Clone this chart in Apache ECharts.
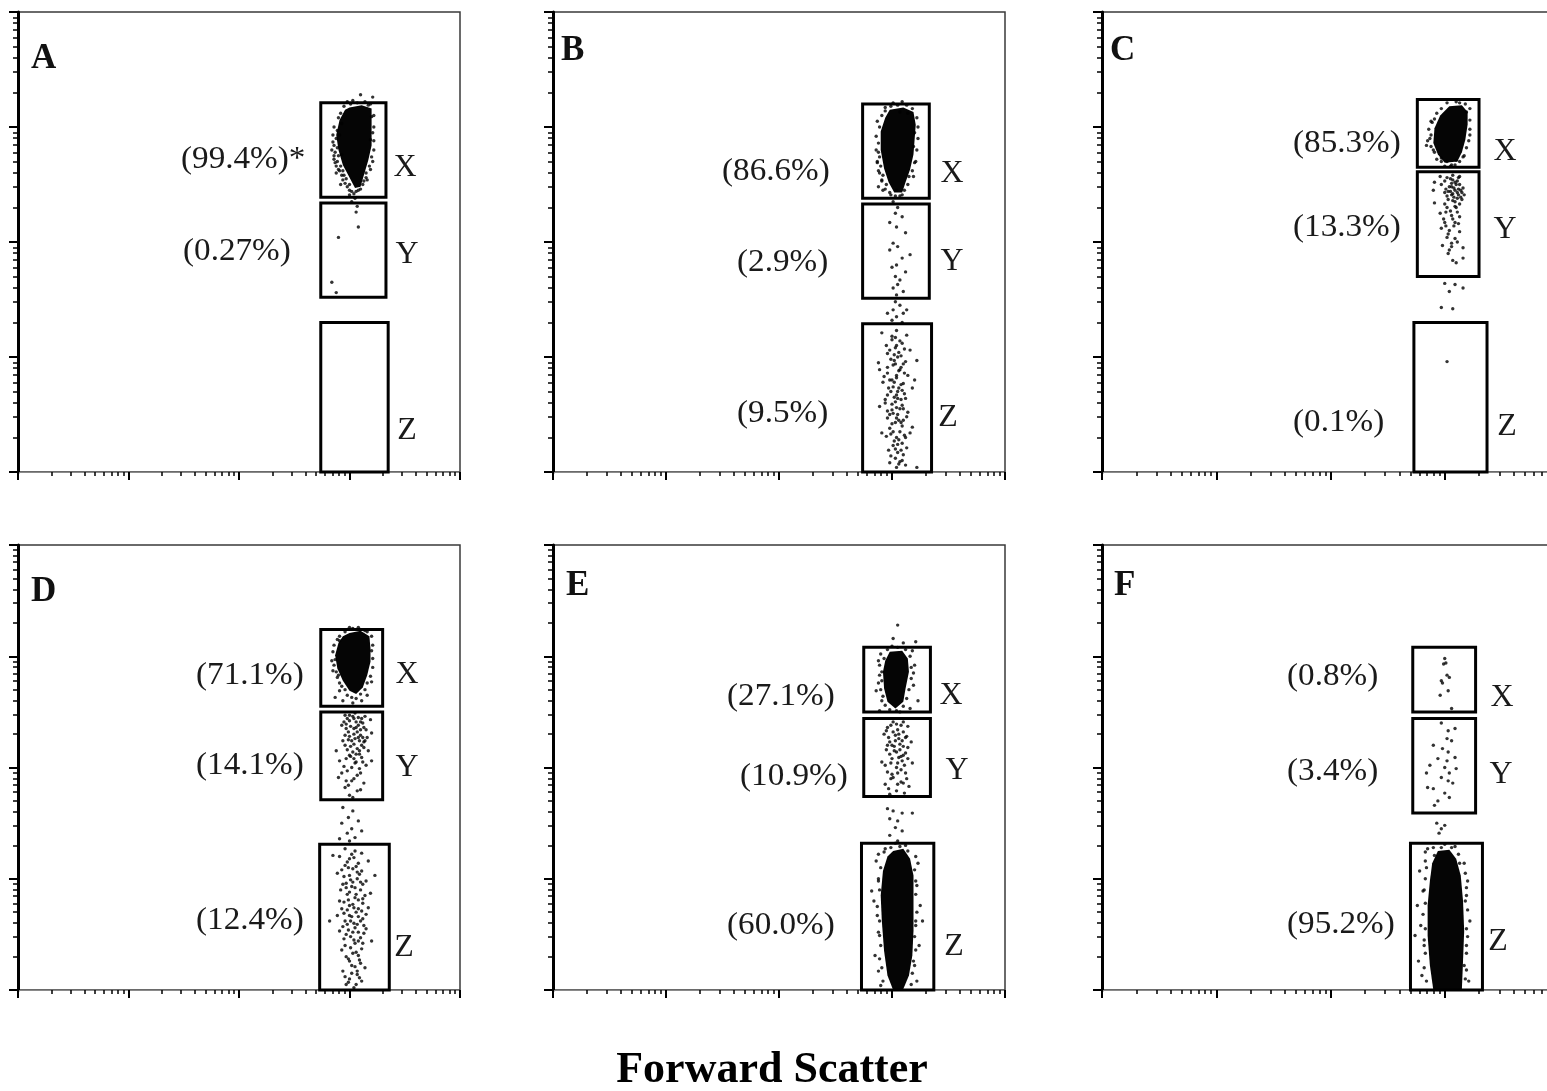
<!DOCTYPE html>
<html>
<head>
<meta charset="utf-8">
<script src="https://cdn.jsdelivr.net/npm/echarts@6/dist/echarts.min.js"></script>
<style>
  html, body { margin: 0; padding: 0; background: #fff; }
  #main { width: 1547px; height: 1091px; }
</style>
</head>
<body>
<div id="main"></div>
<script>
// Both axes of every dot plot are log scales over four decades (10^0 .. 10^4).
// All coordinates below are given in decades: 3.0 means 10^3.
const majorTicks = [0, 1, 2, 3, 4];
const panelNames = ['A', 'B', 'C', 'D', 'E', 'F'];
const gateNames = ['X', 'Y', 'Z'];

// Gate rectangles: [xMin, yMin, xMax, yMax] for gates X, Y, Z
const gatesA = [[2.74, 2.39, 3.33, 3.21], [2.74, 1.52, 3.33, 2.34], [2.74, 0, 3.35, 1.30]];
const gatesB = [[2.74, 2.38, 3.33, 3.20], [2.74, 1.51, 3.33, 2.33], [2.74, 0, 3.35, 1.29]];
const gatesC = [[2.76, 2.65, 3.30, 3.24], [2.76, 1.70, 3.30, 2.61], [2.73, 0, 3.37, 1.30]];
const gatesD = [[2.74, 2.55, 3.30, 3.24], [2.74, 1.71, 3.30, 2.50], [2.73, 0, 3.36, 1.31]];
const gatesE = [[2.75, 2.50, 3.34, 3.08], [2.75, 1.74, 3.34, 2.44], [2.73, 0, 3.37, 1.32]];
const gatesF = [[2.72, 2.50, 3.27, 3.08], [2.72, 1.59, 3.27, 2.44], [2.70, 0, 3.33, 1.32]];

// Percentage of events in gates X, Y, Z
const pctA = ['99.4', '0.27', null];
const pctB = ['86.6', '2.9', '9.5'];
const pctC = ['85.3', '13.3', '0.1'];
const pctD = ['71.1', '14.1', '12.4'];
const pctE = ['27.1', '10.9', '60.0'];
const pctF = ['0.8', '3.4', '95.2'];
const noteA = ['*', '', ''];

// Outlines of the saturated (solid black) event clouds
const coresA = [[[3.00, 3.17], [3.11, 3.19], [3.20, 3.16], [3.20, 3.02], [3.20, 2.84], [3.17, 2.71], [3.13, 2.58], [3.10, 2.48], [3.05, 2.47], [3.00, 2.56], [2.94, 2.67], [2.90, 2.80], [2.88, 2.93], [2.91, 3.06], [2.96, 3.15]]];
const coresB = [[[2.98, 3.15], [3.10, 3.17], [3.19, 3.13], [3.21, 3.02], [3.20, 2.89], [3.19, 2.76], [3.16, 2.63], [3.12, 2.52], [3.09, 2.43], [3.02, 2.43], [2.97, 2.52], [2.93, 2.64], [2.90, 2.80], [2.90, 2.96], [2.94, 3.08]]];
const coresC = [[[3.04, 3.18], [3.15, 3.19], [3.20, 3.13], [3.20, 3.02], [3.18, 2.89], [3.15, 2.78], [3.11, 2.70], [3.00, 2.69], [2.94, 2.76], [2.90, 2.86], [2.91, 2.99], [2.96, 3.10]]];
const coresD = [[[3.00, 3.21], [3.10, 3.23], [3.18, 3.18], [3.19, 3.07], [3.19, 2.95], [3.16, 2.83], [3.12, 2.72], [3.06, 2.66], [3.00, 2.69], [2.94, 2.78], [2.89, 2.89], [2.87, 3.01], [2.90, 3.12], [2.94, 3.18]]];
const coresE = [
  [[2.98, 3.04], [3.09, 3.05], [3.14, 2.98], [3.15, 2.86], [3.12, 2.71], [3.10, 2.59], [3.03, 2.53], [2.96, 2.59], [2.93, 2.71], [2.92, 2.86], [2.94, 2.96]],
  [[3.01, 1.25], [3.10, 1.27], [3.16, 1.18], [3.19, 1.03], [3.19, 0.80], [3.19, 0.53], [3.18, 0.31], [3.15, 0.13], [3.10, 0.01], [3.01, 0.00], [2.96, 0.13], [2.93, 0.35], [2.91, 0.62], [2.90, 0.85], [2.92, 1.07], [2.96, 1.20]]
];
const coresF = [[[2.94, 1.25], [3.04, 1.26], [3.10, 1.18], [3.14, 1.03], [3.16, 0.80], [3.17, 0.53], [3.16, 0.26], [3.15, 0.01], [2.90, 0.00], [2.87, 0.22], [2.85, 0.49], [2.85, 0.76], [2.87, 0.98], [2.89, 1.14]]];

// Individual events outside the saturated clouds
const dotsA = [[2.85, 2.87], [2.84, 2.80], [2.87, 2.69], [2.90, 2.63], [2.93, 2.76], [2.91, 2.93], [2.94, 2.54], [2.98, 2.48], [3.00, 2.45], [3.08, 2.45], [3.12, 2.50], [3.16, 2.54], [3.19, 2.63], [3.20, 2.74], [3.19, 2.89], [3.20, 3.09], [3.17, 3.19], [3.03, 3.23], [3.10, 3.28], [3.21, 3.26], [2.98, 3.22], [3.00, 2.41], [3.05, 2.38], [3.02, 2.35], [3.07, 2.31], [3.06, 2.26], [3.08, 2.13], [2.90, 2.04], [2.84, 1.65], [2.88, 1.56], [2.86, 2.75], [2.88, 2.60], [2.95, 2.58], [3.15, 2.60], [3.21, 2.95], [2.92, 2.50], [3.04, 2.42]];
const edgeA = [[2.86, 3.00], [2.89, 2.97], [2.85, 2.93], [2.88, 2.90], [2.86, 2.84], [2.89, 2.82], [2.87, 2.78], [2.90, 2.75], [2.86, 2.72], [2.89, 2.70], [2.92, 2.66], [2.88, 2.66], [2.91, 2.62], [2.94, 2.62], [2.93, 2.58], [2.97, 2.55], [2.96, 2.51], [3.00, 2.50], [3.02, 2.44], [3.06, 2.44], [3.10, 2.46], [3.13, 2.53], [3.15, 2.56], [3.18, 2.66], [3.21, 2.70], [3.22, 2.80], [3.22, 2.88], [3.22, 3.00], [3.22, 3.10], [3.19, 3.20], [3.14, 3.22], [3.07, 3.21], [3.01, 3.20], [2.95, 3.18], [2.92, 3.12], [2.90, 3.08], [2.93, 3.03]];

const dotsB = [[2.88, 2.78], [2.87, 2.69], [2.89, 2.60], [2.91, 2.54], [2.88, 2.48], [2.92, 2.45], [3.19, 2.57], [3.20, 2.69], [3.19, 2.83], [3.20, 2.95], [3.14, 3.12], [3.07, 3.13], [2.94, 3.17], [3.04, 2.45], [2.98, 2.43], [3.09, 2.41],
  [3.01, 2.35], [3.05, 2.30], [3.03, 2.25], [3.09, 2.22], [2.98, 2.17], [3.04, 2.13], [3.12, 2.08], [3.01, 1.99], [3.05, 1.96], [2.98, 1.93], [3.16, 1.89], [3.09, 1.86], [3.04, 1.80], [3.00, 1.78], [3.12, 1.74], [3.03, 1.70], [3.07, 1.67], [3.05, 1.63], [3.01, 1.60], [3.10, 1.57], [3.04, 1.54],
  [3.03, 1.48], [3.07, 1.45], [3.01, 1.41], [3.10, 1.38], [3.04, 1.35], [3.00, 1.32], [3.09, 1.30], [3.13, 1.41], [2.96, 1.38],
  [2.91, 1.21], [3.04, 1.23], [3.13, 1.19], [3.00, 1.15], [3.09, 1.12], [3.03, 1.08], [3.16, 1.06], [2.96, 1.03], [3.05, 1.00], [3.12, 0.96], [2.88, 0.95], [3.01, 0.93], [3.07, 0.89], [2.96, 0.86], [3.14, 0.84], [3.04, 0.82], [2.92, 0.78], [3.10, 0.77], [3.01, 0.74], [3.18, 0.73], [3.05, 0.70], [2.96, 0.67], [3.12, 0.64], [3.03, 0.61], [3.09, 0.58], [2.89, 0.57], [3.00, 0.54], [3.14, 0.52], [3.05, 0.50], [2.96, 0.47], [3.10, 0.45], [3.03, 0.43], [3.18, 0.39], [2.98, 0.38], [3.07, 0.35], [2.91, 0.34], [3.12, 0.30], [3.04, 0.30], [3.09, 0.25], [3.01, 0.23], [3.13, 0.21], [3.05, 0.17], [3.10, 0.15], [3.03, 0.12], [3.07, 0.09], [3.12, 0.06], [3.04, 0.04], [3.22, 0.04], [2.98, 0.08], [3.16, 0.34], [2.94, 0.63], [3.20, 0.80], [2.89, 0.89], [3.22, 0.97],
  [3.04, 1.10], [3.06, 1.04], [3.02, 0.97], [3.08, 0.91], [3.04, 0.84], [2.98, 0.80], [3.06, 0.73], [3.02, 0.65], [3.08, 0.63], [3.04, 0.56], [2.98, 0.50], [3.06, 0.45], [3.01, 0.35], [3.06, 0.28], [3.03, 0.20],
  [3.00, 1.18], [3.07, 1.14], [2.95, 1.10], [3.11, 1.07], [3.02, 1.02], [2.99, 0.98], [3.10, 0.94], [3.06, 0.88], [2.93, 0.83], [3.00, 0.80], [3.08, 0.76], [2.99, 0.70], [3.11, 0.68], [3.05, 0.64], [2.94, 0.60], [3.07, 0.55], [3.01, 0.51], [3.13, 0.48], [3.00, 0.42], [3.09, 0.40], [2.95, 0.31], [3.02, 0.27], [3.08, 0.19], [2.99, 0.14], [3.06, 0.07],
  [3.03, 1.17], [2.98, 1.06], [3.08, 1.01], [3.03, 0.94], [2.96, 0.91], [3.11, 0.86], [3.02, 0.78], [3.09, 0.71], [2.97, 0.73], [3.04, 0.67], [3.00, 0.59], [3.10, 0.55], [2.96, 0.53], [3.04, 0.47], [3.08, 0.43], [2.99, 0.33], [3.11, 0.32], [3.05, 0.24], [2.97, 0.19], [3.09, 0.10]];
const edgeB = [[2.87, 3.05], [2.89, 3.00], [2.86, 2.92], [2.88, 2.86], [2.86, 2.80], [2.89, 2.74], [2.87, 2.70], [2.90, 2.66], [2.88, 2.62], [2.92, 2.58], [2.91, 2.53], [2.95, 2.50], [2.94, 2.46], [2.99, 2.41], [3.03, 2.40], [3.07, 2.40], [3.11, 2.45], [3.14, 2.50], [3.15, 2.57], [3.18, 2.62], [3.21, 2.70], [3.22, 2.80], [3.23, 2.90], [3.23, 3.00], [3.22, 3.08], [3.18, 3.16], [3.13, 3.19], [3.05, 3.19], [2.99, 3.18], [2.94, 3.14], [2.91, 3.10], [3.01, 3.21], [3.09, 3.22]];

const dotsC = [[2.89, 3.04], [2.84, 2.84], [2.90, 2.80], [2.87, 2.90], [3.19, 3.13], [3.22, 2.93], [3.13, 3.21], [2.97, 2.73], [3.02, 2.70], [3.10, 2.71], [3.16, 2.74], [3.06, 2.67],
  [2.96, 2.57], [3.02, 2.56], [3.07, 2.54], [3.13, 2.57], [2.97, 2.50], [3.04, 2.48], [3.10, 2.50], [3.16, 2.47], [3.00, 2.43], [3.06, 2.41], [3.11, 2.43], [3.17, 2.41], [3.03, 2.37], [3.09, 2.35], [3.15, 2.37], [2.91, 2.34], [3.02, 2.30], [3.10, 2.30], [2.96, 2.25], [3.06, 2.23], [3.13, 2.22], [3.00, 2.17], [3.09, 2.17], [2.97, 2.12], [3.04, 2.10], [3.13, 2.09], [3.02, 2.04], [3.09, 2.03], [2.98, 1.97], [3.06, 1.96], [3.16, 1.95], [3.03, 1.90], [3.07, 1.84], [3.10, 1.82], [3.16, 1.86], [2.90, 2.45], [2.91, 2.52],
  [3.06, 2.51], [3.09, 2.45], [3.13, 2.50], [3.08, 2.39], [3.03, 2.44], [3.11, 2.38], [3.15, 2.43],
  [3.05, 2.55], [3.11, 2.53], [3.08, 2.47], [3.01, 2.46], [3.14, 2.45], [3.05, 2.44], [3.12, 2.41], [3.07, 2.36], [3.00, 2.33], [3.13, 2.33], [3.05, 2.27], [3.11, 2.26], [2.99, 2.20], [3.08, 2.14], [3.03, 2.07], [3.11, 2.00],
  [3.07, 2.58], [3.12, 2.56], [3.00, 2.53], [3.09, 2.52], [3.06, 2.48], [3.12, 2.46], [3.07, 2.42], [3.02, 2.40], [3.14, 2.39], [3.09, 2.31], [3.01, 2.26], [3.07, 2.20], [3.12, 2.16], [3.01, 2.14], [3.06, 1.99], [3.04, 1.93],
  [3.00, 1.64], [3.09, 1.63], [3.16, 1.60], [3.04, 1.57], [2.97, 1.43], [3.07, 1.42],
  [3.02, 0.96]];
const edgeC = [[2.88, 3.05], [2.86, 2.98], [2.88, 2.93], [2.85, 2.88], [2.88, 2.83], [2.91, 2.78], [2.93, 2.72], [2.97, 2.70], [3.00, 2.66], [3.05, 2.66], [3.09, 2.67], [3.13, 2.70], [3.17, 2.75], [3.19, 2.82], [3.21, 2.88], [3.22, 2.98], [3.22, 3.06], [3.22, 3.16], [3.18, 3.20], [3.10, 3.22], [3.02, 3.21], [2.97, 3.16], [2.93, 3.12], [2.91, 3.07]];

const dotsD = [[2.84, 2.96], [2.85, 2.87], [2.89, 2.81], [2.91, 2.69], [2.87, 2.63], [2.94, 2.60], [3.03, 2.58], [3.11, 2.60], [3.16, 2.65], [3.20, 2.77], [3.20, 3.05], [3.14, 3.23], [3.00, 3.26], [2.91, 3.14],
  [2.96, 2.47], [3.05, 2.49], [3.14, 2.46], [3.00, 2.42], [3.10, 2.41], [3.19, 2.43], [2.93, 2.38], [3.06, 2.36], [3.15, 2.34], [2.99, 2.32], [3.10, 2.29], [3.20, 2.31], [3.02, 2.24], [3.13, 2.23], [2.96, 2.20], [3.07, 2.17], [3.17, 2.15], [3.00, 2.11], [3.11, 2.09], [2.91, 2.06], [3.05, 2.04], [3.15, 2.02], [2.98, 1.97], [3.10, 1.95], [2.90, 1.91], [3.02, 1.88], [3.13, 1.86], [2.96, 1.82], [3.07, 1.79], [3.00, 1.75], [2.93, 1.95], [3.20, 2.06], [2.88, 2.15], [3.04, 2.44], [3.11, 2.20], [3.03, 2.14],
  [3.03, 2.46], [3.08, 2.38], [2.97, 2.35], [3.12, 2.27], [3.05, 2.26], [2.99, 2.25], [3.09, 2.12], [3.04, 2.08],
  [2.98, 2.44], [3.08, 2.45], [3.12, 2.40], [2.95, 2.41], [3.01, 2.37], [3.13, 2.36], [3.07, 2.32], [2.96, 2.29], [3.04, 2.30], [3.16, 2.27], [3.09, 2.24], [2.94, 2.24], [3.01, 2.19], [3.13, 2.18], [3.06, 2.12], [2.97, 2.08], [3.12, 2.05], [3.02, 2.00], [3.07, 1.93], [2.99, 1.84], [3.10, 1.80], [3.03, 1.73],
  [3.00, 2.47], [3.11, 2.44], [3.06, 2.41], [2.97, 2.39], [3.04, 2.35], [3.10, 2.34], [3.00, 2.28], [3.08, 2.27], [3.14, 2.24], [3.04, 2.21], [2.98, 2.16], [3.09, 2.15], [3.01, 2.10], [3.06, 2.05], [2.95, 2.01], [3.09, 1.99], [3.04, 1.90], [2.97, 1.88],
  [2.94, 1.64], [3.03, 1.61], [2.99, 1.55], [3.08, 1.52], [2.93, 1.50], [3.02, 1.45], [3.11, 1.43], [2.98, 1.41], [3.05, 1.37], [3.00, 1.34], [2.91, 1.36],
  [2.96, 1.27], [3.05, 1.25], [3.11, 1.23], [2.91, 1.20], [3.00, 1.18], [3.08, 1.14], [3.17, 1.16], [2.96, 1.12], [3.03, 1.09], [3.11, 1.07], [2.89, 1.05], [3.00, 1.03], [3.07, 1.00], [3.15, 0.98], [2.94, 0.95], [3.02, 0.93], [3.10, 0.90], [3.19, 0.87], [2.98, 0.86], [3.05, 0.83], [2.91, 0.80], [3.12, 0.78], [3.00, 0.76], [3.08, 0.73], [2.95, 0.69], [3.15, 0.68], [3.02, 0.66], [3.10, 0.62], [2.98, 0.59], [3.05, 0.56], [2.91, 0.53], [3.13, 0.51], [3.01, 0.48], [3.08, 0.44], [2.96, 0.40], [3.11, 0.37], [3.03, 0.33], [2.99, 0.28], [3.10, 0.24], [3.05, 0.21], [2.94, 0.17], [3.07, 0.14], [3.00, 0.10], [3.11, 0.08], [2.97, 0.05], [3.04, 0.02], [2.85, 1.21], [3.23, 1.03], [2.82, 0.62], [3.20, 0.44],
  [3.02, 1.22], [2.98, 1.15], [3.06, 1.11], [2.93, 1.08], [3.09, 1.04], [3.01, 0.99], [2.97, 0.96], [3.12, 0.95], [3.05, 0.92], [2.92, 0.90], [3.00, 0.88], [3.14, 0.85], [3.08, 0.81], [2.95, 0.79], [3.03, 0.77], [3.17, 0.74], [2.98, 0.72], [3.06, 0.70], [2.89, 0.67], [3.12, 0.64], [3.01, 0.62], [3.07, 0.59], [2.94, 0.57], [3.15, 0.55], [3.03, 0.52], [2.97, 0.50], [3.10, 0.47], [3.05, 0.42], [2.93, 0.36], [3.08, 0.31], [3.00, 0.26], [3.14, 0.20], [3.02, 0.15], [3.09, 0.11], [2.96, 0.12], [3.06, 0.05],
  [3.04, 1.19], [2.99, 1.10], [3.07, 1.06], [2.95, 1.02], [3.03, 0.97], [3.10, 0.97], [2.97, 0.92], [3.06, 0.86], [3.12, 0.82], [2.99, 0.81], [3.04, 0.74], [2.93, 0.73], [3.11, 0.71], [3.00, 0.67], [3.08, 0.66], [2.96, 0.62], [3.04, 0.60], [3.13, 0.58], [2.99, 0.54], [3.08, 0.52], [2.95, 0.46], [3.04, 0.45], [3.12, 0.42], [3.01, 0.38], [3.06, 0.34], [2.97, 0.30], [3.09, 0.27], [3.02, 0.22], [3.07, 0.17], [2.99, 0.07]];
const edgeD = [[2.86, 3.10], [2.85, 3.04], [2.87, 2.97], [2.86, 2.92], [2.88, 2.86], [2.90, 2.83], [2.91, 2.76], [2.93, 2.73], [2.96, 2.70], [2.98, 2.65], [3.02, 2.63], [3.06, 2.62], [3.10, 2.66], [3.14, 2.70], [3.16, 2.76], [3.19, 2.82], [3.21, 2.90], [3.21, 2.98], [3.21, 3.10], [3.20, 3.18], [3.16, 3.22], [3.08, 3.26], [3.03, 3.25], [2.96, 3.22], [2.91, 3.18], [2.89, 3.15]];

const dotsE = [[3.05, 3.28], [3.01, 3.16], [3.21, 3.13], [3.10, 3.12],
  [2.88, 2.96], [2.89, 2.83], [2.86, 2.69], [2.91, 2.60], [3.20, 2.92], [3.19, 2.74], [3.23, 2.60], [2.89, 2.51], [3.07, 2.50], [3.16, 2.53], [3.00, 3.09], [3.18, 3.05],
  [3.01, 2.41], [3.10, 2.41], [2.96, 2.36], [3.05, 2.34], [3.14, 2.37], [2.93, 2.30], [3.03, 2.29], [3.12, 2.27], [2.98, 2.23], [3.07, 2.21], [3.17, 2.23], [2.95, 2.16], [3.04, 2.14], [3.12, 2.13], [3.00, 2.08], [3.09, 2.06], [2.91, 2.05], [3.18, 2.04], [3.04, 2.00], [2.96, 1.96], [3.12, 1.95], [3.01, 1.91], [3.08, 1.87], [2.94, 1.85], [3.15, 1.83], [3.04, 1.79], [2.98, 1.76], [3.11, 1.77], [3.06, 2.26], [3.02, 2.19], [3.10, 2.11], [3.05, 2.04],
  [2.99, 2.38], [3.08, 2.38], [3.01, 2.32], [3.10, 2.32], [2.97, 2.27], [3.09, 2.24], [3.00, 2.20], [3.14, 2.18], [3.07, 2.16], [2.98, 2.12], [3.06, 2.09], [3.14, 2.08], [2.94, 2.02], [3.08, 1.98], [3.00, 1.94], [3.13, 1.90], [3.05, 1.85], [2.97, 1.81],
  [3.04, 2.39], [2.95, 2.33], [3.06, 2.30], [3.13, 2.28], [3.03, 2.24], [2.96, 2.20], [3.10, 2.19], [3.02, 2.15], [3.08, 2.10], [2.99, 2.04], [3.11, 2.02], [3.05, 1.95], [2.99, 1.90], [3.10, 1.86],
  [2.96, 1.63], [3.01, 1.61], [3.09, 1.59], [2.98, 1.54], [3.05, 1.52], [3.18, 1.59], [3.03, 1.46], [3.09, 1.43], [2.98, 1.39], [3.05, 1.34],
  [2.86, 1.16], [2.88, 0.98], [2.84, 0.80], [2.87, 0.67], [2.89, 0.49], [2.85, 0.31], [2.88, 0.17], [2.90, 0.04], [3.23, 1.14], [3.22, 0.94], [3.25, 0.76], [3.21, 0.58], [3.24, 0.40], [3.20, 0.22], [3.22, 0.08], [2.82, 0.89], [3.27, 0.62], [2.94, 1.27], [3.12, 1.30], [3.03, 1.32]];
const edgeE = [[2.90, 3.02], [2.89, 2.92], [2.91, 2.78], [2.90, 2.70], [2.92, 2.64], [2.94, 2.56], [2.98, 2.52], [3.04, 2.51], [3.10, 2.55], [3.13, 2.62], [3.15, 2.70], [3.17, 2.80], [3.17, 2.90], [3.16, 3.00], [3.12, 3.06], [3.05, 3.08], [2.96, 3.06], [2.93, 2.98], [2.91, 2.86], [3.19, 2.85], [2.88, 2.76],
  [2.88, 1.22], [2.90, 1.10], [2.88, 1.00], [2.89, 0.90], [2.87, 0.75], [2.89, 0.62], [2.88, 0.52], [2.90, 0.40], [2.89, 0.28], [2.91, 0.20], [2.92, 0.08], [3.21, 1.20], [3.20, 1.08], [3.21, 0.98], [3.21, 0.86], [3.22, 0.70], [3.21, 0.62], [3.20, 0.48], [3.21, 0.36], [3.19, 0.26], [3.18, 0.15], [3.17, 0.05], [2.99, 1.28], [3.07, 1.29], [3.14, 1.25], [2.93, 1.24]];

const dotsF = [[3.00, 2.98], [3.01, 2.94], [2.97, 2.78], [3.02, 2.83], [3.04, 2.81], [2.98, 2.76], [3.03, 2.69], [2.96, 2.65], [3.06, 2.53], [2.99, 2.93],
  [2.97, 2.40], [3.03, 2.33], [3.09, 2.35], [3.02, 2.26], [3.06, 2.24], [2.90, 2.20], [2.98, 2.17], [3.03, 2.14], [3.09, 2.09], [2.94, 2.08], [2.87, 2.02], [3.00, 2.00], [3.04, 1.95], [2.84, 1.95], [2.97, 1.91], [3.03, 1.88], [3.07, 1.86], [2.90, 1.81], [3.00, 1.77], [2.94, 1.70], [3.04, 1.73], [2.91, 1.66], [3.02, 2.06], [3.10, 1.99], [2.85, 1.82],
  [2.93, 1.50], [2.97, 1.45], [2.95, 1.41], [3.00, 1.48],
  [2.78, 1.07], [2.81, 0.89], [2.76, 0.76], [2.79, 0.58], [2.82, 0.40], [2.77, 0.26], [2.80, 0.13], [3.20, 0.98], [3.18, 0.80], [3.22, 0.62], [3.19, 0.40], [3.17, 0.22], [3.21, 0.08], [2.85, 1.27], [3.09, 1.29], [3.00, 1.31], [2.91, 1.21], [3.13, 1.14], [2.83, 1.16], [2.74, 0.49]];
const edgeF = [[2.83, 1.24], [2.84, 1.10], [2.83, 1.00], [2.82, 0.90], [2.83, 0.78], [2.81, 0.68], [2.83, 0.55], [2.82, 0.45], [2.83, 0.33], [2.82, 0.20], [2.84, 0.08], [3.17, 1.14], [3.18, 1.05], [3.19, 0.92], [3.19, 0.85], [3.20, 0.72], [3.19, 0.55], [3.20, 0.48], [3.19, 0.33], [3.19, 0.18], [3.18, 0.10], [2.90, 1.28], [2.97, 1.28], [3.06, 1.28], [3.12, 1.22]];

const panels = [
  { gates: gatesA, cores: coresA, dots: dotsA.concat(edgeA), pct: pctA, note: noteA },
  { gates: gatesB, cores: coresB, dots: dotsB.concat(edgeB), pct: pctB },
  { gates: gatesC, cores: coresC, dots: dotsC.concat(edgeC), pct: pctC },
  { gates: gatesD, cores: coresD, dots: dotsD.concat(edgeD), pct: pctD },
  { gates: gatesE, cores: coresE, dots: dotsE.concat(edgeE), pct: pctE },
  { gates: gatesF, cores: coresF, dots: dotsF.concat(edgeF), pct: pctF }
];

// Page layout (pixels): plot box [left, top, width, height], panel letter, percentage labels, gate letters.
// The right-hand column runs past the page edge.
const layout = [
  { box: [18, 12, 442, 460], letter: [31, 59], pct: [[181, 160], [183, 252], null], gate: [[405, 168], [407, 255], [407, 431]] },
  { box: [553, 12, 452, 460], letter: [561, 51], pct: [[722, 172], [737, 263], [737, 414]], gate: [[952, 174], [952, 262], [948, 418]] },
  { box: [1102, 12, 457, 460], letter: [1110, 51], pct: [[1293, 144], [1293, 228], [1293, 423]], gate: [[1505, 152], [1505, 230], [1507, 427]] },
  { box: [18, 545, 442, 445], letter: [31, 592], pct: [[196, 676], [196, 766], [196, 921]], gate: [[407, 675], [407, 768], [404, 948]] },
  { box: [553, 545, 452, 445], letter: [566, 586], pct: [[727, 697], [740, 777], [727, 926]], gate: [[951, 696], [957, 771], [954, 947]] },
  { box: [1102, 545, 457, 445], letter: [1114, 586], pct: [[1287, 677], [1287, 772], [1287, 925]], gate: [[1502, 698], [1501, 775], [1498, 942]] }
];

// Minor ticks at 2..9 x 10^d inside each decade
const minorTicks = [];
for (let d = 0; d < 4; d++) {
  for (let k = 2; k <= 9; k++) minorTicks.push(d + Math.log10(k));
}

const SERIF = '"Liberation Serif", "Times New Roman", serif';
const grids = [], xAxes = [], yAxes = [], series = [], graphics = [];

panels.forEach((p, i) => {
  const L = layout[i];
  grids.push({
    left: L.box[0], top: L.box[1], width: L.box[2], height: L.box[3],
    outerBoundsMode: 'none', containLabel: false,
    show: true, borderColor: '#3a3a3a', borderWidth: 1.5, backgroundColor: '#fff'
  });

  const common = { gridIndex: i, type: 'value', min: 0, max: 4, axisLabel: { show: false }, splitLine: { show: false } };
  xAxes.push(Object.assign({}, common, {
    position: 'bottom',
    axisLine: { show: true, onZero: false, lineStyle: { color: '#8a8a8a', width: 1 } },
    axisTick: { show: true, inside: false, length: 8, customValues: majorTicks, lineStyle: { color: '#000', width: 2 } }
  }));
  xAxes.push(Object.assign({}, common, {
    position: 'bottom',
    axisLine: { show: false, onZero: false },
    axisTick: { show: true, inside: false, length: 4, customValues: minorTicks, lineStyle: { color: '#000', width: 1.5 } }
  }));
  yAxes.push(Object.assign({}, common, {
    position: 'left',
    axisLine: { show: true, onZero: false, lineStyle: { color: '#000', width: 3 } },
    axisTick: { show: true, inside: false, length: 9, customValues: majorTicks, lineStyle: { color: '#000', width: 2 } }
  }));
  yAxes.push(Object.assign({}, common, {
    position: 'left',
    axisLine: { show: false, onZero: false },
    axisTick: { show: true, inside: false, length: 5, customValues: minorTicks, lineStyle: { color: '#000', width: 1.5 } }
  }));

  const ax = { xAxisIndex: 2 * i, yAxisIndex: 2 * i };

  // saturated event clouds
  p.cores.forEach(poly => {
    series.push(Object.assign({
      type: 'custom', data: poly, silent: true, z: 2,
      renderItem: (params, api) => {
        if (params.dataIndex !== 0) return null;
        return {
          type: 'polygon',
          shape: { points: poly.map(pt => api.coord(pt)) },
          style: { fill: '#050505' }
        };
      }
    }, ax));
  });

  // single events
  series.push(Object.assign({
    type: 'scatter', data: p.dots, symbol: 'circle', symbolSize: 3.4,
    itemStyle: { color: '#000' }, silent: true, z: 3
  }, ax));

  // gates
  series.push(Object.assign({
    type: 'custom', data: p.gates, silent: true, z: 4,
    encode: { x: [0, 2], y: [1, 3] },
    renderItem: (params, api) => {
      const a = api.coord([api.value(0), api.value(1)]);
      const b = api.coord([api.value(2), api.value(3)]);
      return {
        type: 'rect',
        shape: { x: Math.min(a[0], b[0]), y: Math.min(a[1], b[1]), width: Math.abs(b[0] - a[0]), height: Math.abs(b[1] - a[1]) },
        style: { fill: 'none', stroke: '#000', lineWidth: 3 }
      };
    }
  }, ax));

  // panel letter
  graphics.push({
    type: 'text', x: L.letter[0], y: L.letter[1], z: 10,
    style: { text: panelNames[i], font: 'bold 35px ' + SERIF, fill: '#111', textAlign: 'left', textVerticalAlign: 'middle' }
  });
  // gate percentages and gate letters
  gateNames.forEach((gn, j) => {
    if (p.pct[j] !== null && L.pct[j]) {
      graphics.push({
        type: 'text', x: L.pct[j][0], y: L.pct[j][1], z: 10, scaleX: 1.07,
        style: { text: '(' + p.pct[j] + '%)' + (p.note ? p.note[j] : ''), font: '31px ' + SERIF, fill: '#1a1a1a', textAlign: 'left', textVerticalAlign: 'middle' }
      });
    }
    graphics.push({
      type: 'text', x: L.gate[j][0], y: L.gate[j][1], z: 10,
      style: { text: gn, font: '32px ' + SERIF, fill: '#1a1a1a', textAlign: 'center', textVerticalAlign: 'middle' }
    });
  });
});

graphics.push({
  type: 'text', x: 772, y: 1071, z: 10,
  style: { text: 'Forward Scatter', font: 'bold 44px ' + SERIF, fill: '#000', textAlign: 'center', textVerticalAlign: 'middle' }
});

const chart = echarts.init(document.getElementById('main'), null, { renderer: 'canvas' });
chart.setOption({
  animation: false,
  backgroundColor: '#fff',
  grid: grids,
  xAxis: xAxes,
  yAxis: yAxes,
  series: series,
  graphic: graphics
});
</script>
</body>
</html>
